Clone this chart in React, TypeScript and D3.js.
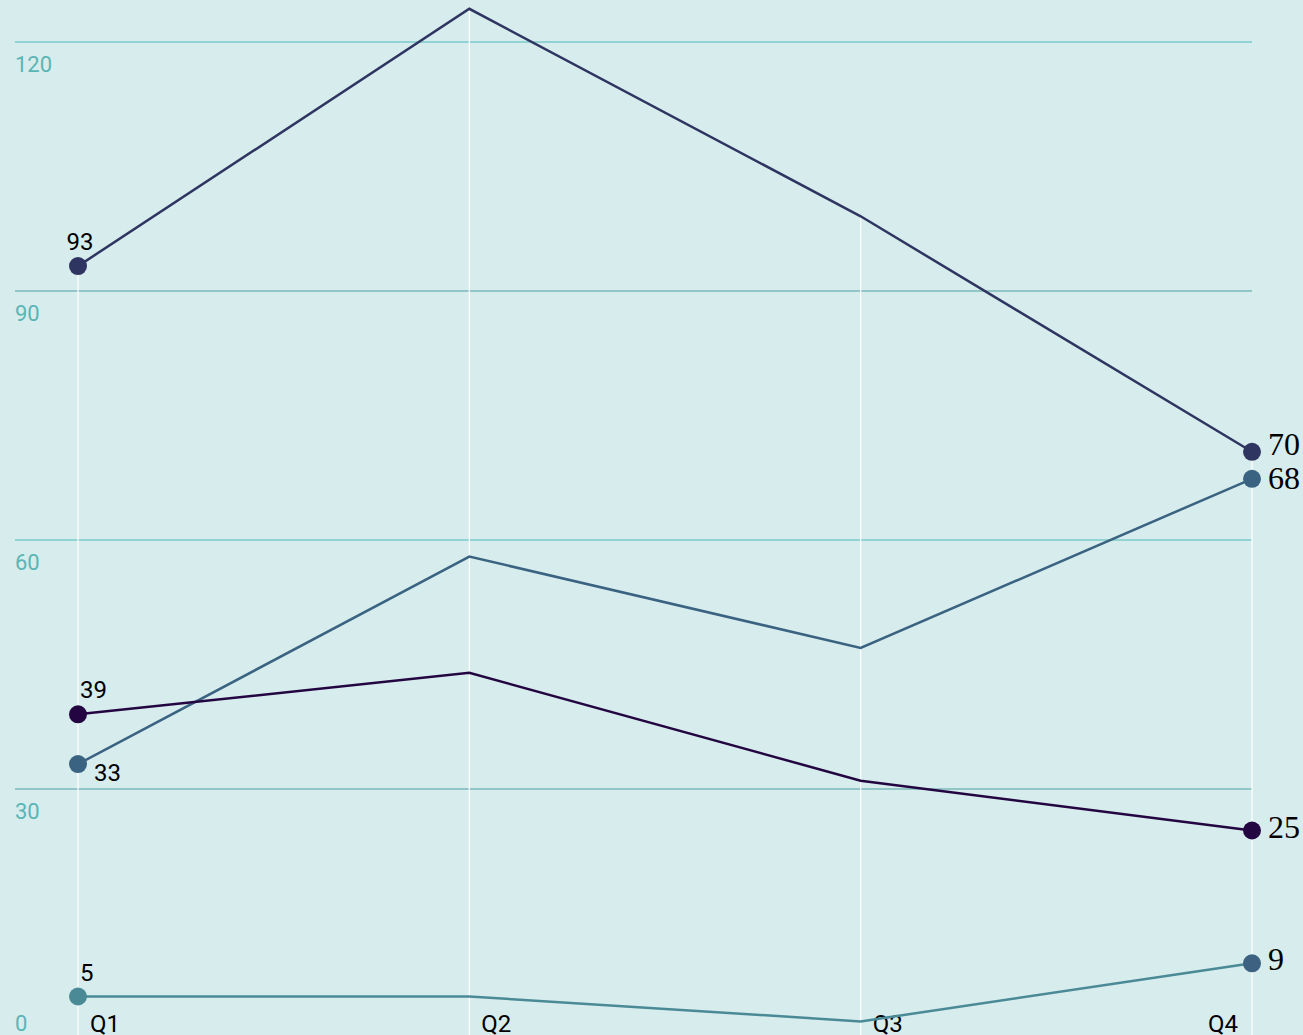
import { useEffect, useMemo } from "react";
import * as d3 from "d3";

const W = 1303;
const H = 1035;

const quarters = ["Q1", "Q2", "Q3", "Q4"];
const yTicks = [0, 30, 60, 90, 120];

const seriesKeys = ["navy", "steel", "plum", "teal"];
const navyValues = [93, 124, 99, 70];
const steelValues = [33, 58, 47, 68];
const plumValues = [39, 44, 31, 25];
const tealValues = [5, 5, 2, 9];

const BG = "#d7ecec";
const LINE_COLORS: Record<string, string> = {
  navy: "#2e3561",
  steel: "#3a6382",
  plum: "#230641",
  teal: "#4a8a97"
};
// the last marker of the teal series is drawn in the steel tone
const END_MARKER: Record<string, string> = { teal: "#3c6181" };

// where the first-point label sits relative to its marker
const START_LABEL: Record<string, "above" | "aboveRight" | "belowRight"> = {
  navy: "above",
  steel: "belowRight",
  plum: "aboveRight",
  teal: "aboveRight"
};

type Pt = { key: string; i: number; v: number; x: number; y: number; ly: number };

// spread items apart (top to bottom) so neighbours keep a minimum gap
function spread(items: Pt[], get: (p: Pt) => number, set: (p: Pt, v: number) => void, gap: number) {
  const sorted = [...items].sort((a, b) => get(a) - get(b));
  for (let k = 1; k < sorted.length; k++) {
    const d = get(sorted[k]) - get(sorted[k - 1]);
    if (d < gap) {
      const shift = (gap - d) / 2;
      set(sorted[k - 1], get(sorted[k - 1]) - shift);
      set(sorted[k], get(sorted[k]) + shift);
    }
  }
}

export default function App() {
  useEffect(() => {
    document.body.style.margin = "0";
  }, []);

  const x = d3.scalePoint<string>().domain(quarters).range([78, 1252]);
  const y = d3.scaleLinear().domain([0, 120]).range([1038, 42]);

  const series = useMemo(() => {
    const vals: Record<string, number[]> = {
      navy: navyValues,
      steel: steelValues,
      plum: plumValues,
      teal: tealValues
    };
    const out = seriesKeys.map((key) => ({
      key,
      pts: vals[key].map((v, i) => ({ key, i, v, x: x(quarters[i])!, y: y(v), ly: 0 })) as Pt[]
    }));

    // push the end points apart when they crowd each other
    const last = quarters.length - 1;
    const ends = out.map((s) => s.pts[last]);
    spread(ends, (p) => p.y, (p, v) => { p.y = v; }, 27);
    ends.forEach((p) => { p.ly = p.y + 7; });
    spread(ends, (p) => p.ly, (p, v) => { p.ly = v; }, 34);
    return out;
  }, []);

  const line = d3.line<Pt>().x((d) => d.x).y((d) => d.y);

  // vertical drop lines reach up to the highest point in each quarter
  const dropTop = quarters.map((_, i) => d3.min(series, (s) => s.pts[i].y)!);

  return (
    <svg width={W} height={H} style={{ display: "block", background: BG }}>
      <rect width={W} height={H} fill={BG} />

      {/* horizontal grid */}
      {yTicks.filter((t) => t > 0).map((t) => (
        <line
          key={t}
          x1={15}
          x2={1252}
          y1={y(t)}
          y2={y(t)}
          stroke={t % 60 === 0 ? "#4db8b8" : "#4f9fa2"}
          strokeWidth={1}
        />
      ))}
      {yTicks.map((t) => (
        <text
          key={t}
          x={15}
          y={Math.min(y(t) + 30, 1031)}
          fill="#5ab5b5"
          fontFamily="Roboto"
          fontSize={22}
        >
          {t}
        </text>
      ))}

      {/* vertical drop lines */}
      {quarters.map((q, i) => (
        <line key={q} x1={x(q)} x2={x(q)} y1={dropTop[i]} y2={H} stroke="#ffffff" strokeWidth={1.2} />
      ))}

      {/* x labels */}
      {quarters.map((q, i) => {
        const isLast = i === quarters.length - 1;
        return (
          <text
            key={q}
            x={x(q)! + (isLast ? -14 : 12)}
            y={1032}
            textAnchor={isLast ? "end" : "start"}
            fontFamily="Roboto"
            fontSize={24}
            fill="#000"
            stroke={BG}
            strokeWidth={8}
            strokeLinejoin="round"
            paintOrder="stroke"
          >
            {q}
          </text>
        );
      })}

      {/* lines */}
      {series.map((s) => (
        <path
          key={s.key}
          d={line(s.pts)!}
          fill="none"
          stroke={LINE_COLORS[s.key]}
          strokeWidth={2.5}
          strokeLinejoin="miter"
        />
      ))}

      {/* markers at first and last quarter */}
      {series.map((s) => {
        const first = s.pts[0];
        const last = s.pts[s.pts.length - 1];
        return (
          <g key={s.key}>
            <circle cx={first.x} cy={first.y} r={9} fill={LINE_COLORS[s.key]} />
            <circle cx={last.x} cy={last.y} r={9} fill={END_MARKER[s.key] ?? LINE_COLORS[s.key]} />
          </g>
        );
      })}

      {/* start labels */}
      {series.map((s) => {
        const p = s.pts[0];
        const pos = START_LABEL[s.key];
        const tx = pos === "belowRight" ? p.x + 16 : p.x + 2;
        const ty = pos === "belowRight" ? p.y + 17 : p.y - 16;
        return (
          <text
            key={s.key}
            x={tx}
            y={ty}
            textAnchor={pos === "above" ? "middle" : "start"}
            fontFamily="Roboto"
            fontSize={24}
            fill="#000"
          >
            {p.v}
          </text>
        );
      })}

      {/* end labels */}
      {series.map((s) => {
        const p = s.pts[s.pts.length - 1];
        return (
          <text
            key={s.key}
            x={p.x + 16}
            y={p.ly}
            fontFamily="Liberation Serif"
            fontSize={32}
            fill="#000"
          >
            {p.v}
          </text>
        );
      })}
    </svg>
  );
}
